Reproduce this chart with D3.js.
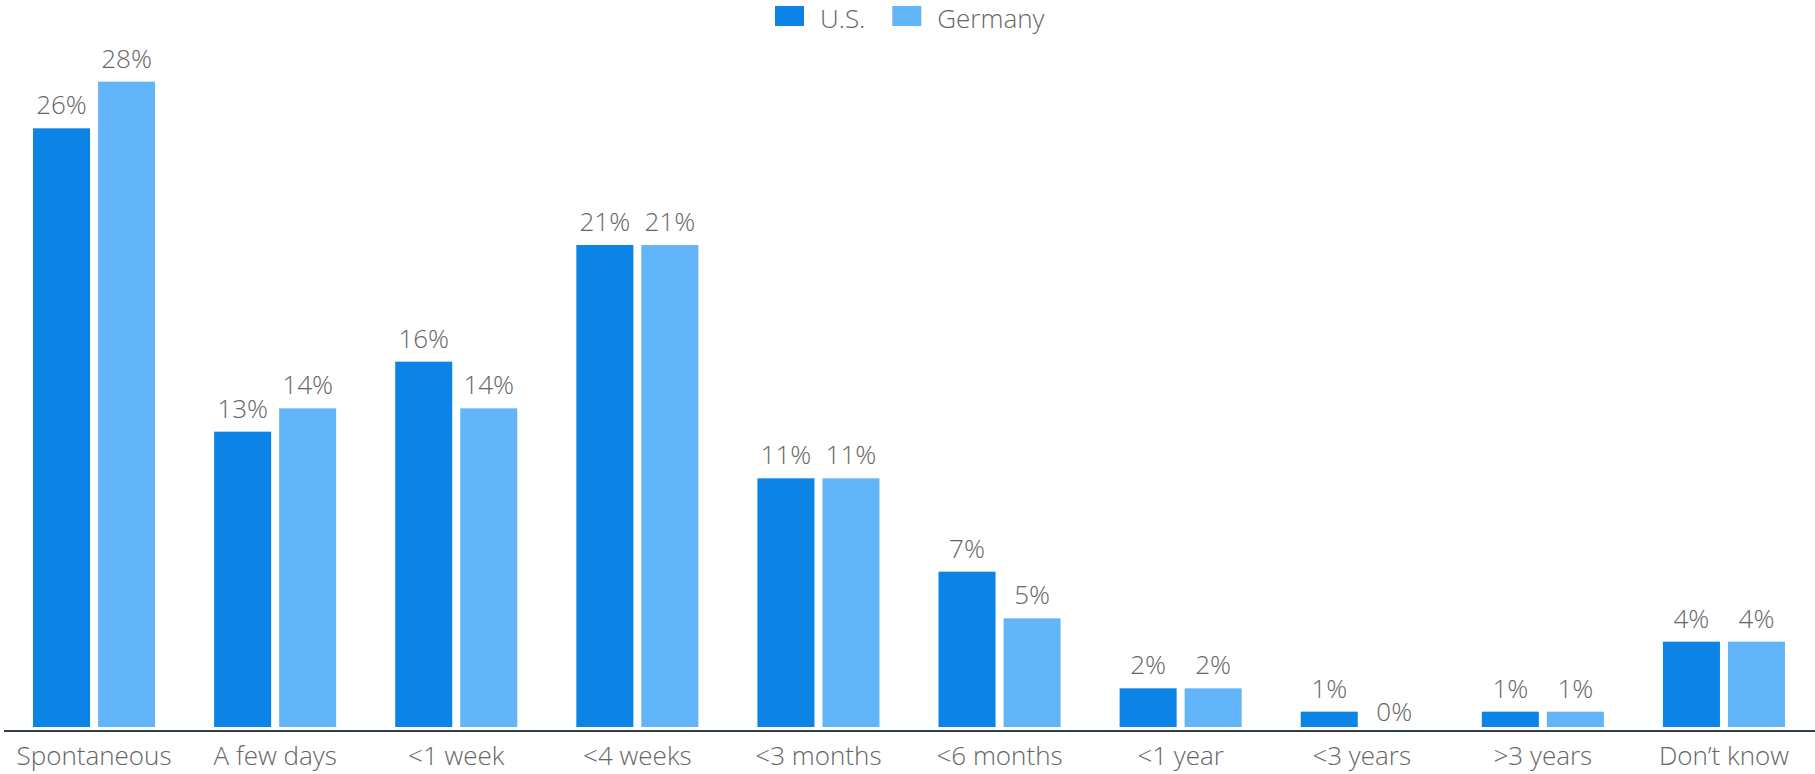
<!DOCTYPE html>
<html>
<head>
<meta charset="utf-8">
<script src="https://cdn.jsdelivr.net/npm/d3@7"></script>
<style>
  html, body { margin: 0; padding: 0; background: #fff; }
  svg { display: block; font-family: "Open Sans", sans-serif; font-weight: 300; }
</style>
</head>
<body>
<svg id="chart" width="1815" height="774"></svg>
<script>
// Time between deciding on a trip and booking it
const categories = ["Spontaneous", "A few days", "<1 week", "<4 weeks", "<3 months",
                    "<6 months", "<1 year", "<3 years", ">3 years", "Don\u2019t know"];
const seriesNames = ["U.S.", "Germany"];
const usValues      = [26, 13, 16, 21, 11, 7, 2, 1, 1, 4];
const germanyValues = [28, 14, 14, 21, 11, 5, 2, 0, 1, 4];
const colors = ["#0b84e5", "#63b5f9"];

const W = 1815, H = 774;
const svg = d3.select("#chart");

const plotBottom = 727;   // bars are cut off just above the axis rule
const axisY = 731;
const fontSize = 26;
const textColor = "#666";

const x0 = d3.scaleBand()
  .domain(categories)
  .range([3.5, 1814.5])
  .paddingInner(0.326)
  .paddingOuter(0.163);

const x1 = d3.scaleBand()
  .domain(seriesNames)
  .range([0, x0.bandwidth()])
  .paddingInner(0.123);

const y = d3.scaleLinear().domain([0, 30]).range([735, 35]);

const rows = categories.map((c, i) => ({
  category: c,
  values: [
    { series: seriesNames[0], value: usValues[i] },
    { series: seriesNames[1], value: germanyValues[i] }
  ]
}));

const color = d3.scaleOrdinal().domain(seriesNames).range(colors);

const groups = svg.append("g")
  .selectAll("g")
  .data(rows)
  .join("g")
  .attr("transform", d => `translate(${x0(d.category)},0)`);

groups.selectAll("rect")
  .data(d => d.values)
  .join("rect")
  .attr("x", d => x1(d.series))
  .attr("y", d => Math.min(y(d.value), plotBottom))
  .attr("width", x1.bandwidth())
  .attr("height", d => Math.max(0, plotBottom - y(d.value)))
  .attr("fill", d => color(d.series));

groups.selectAll("text")
  .data(d => d.values)
  .join("text")
  .attr("x", d => x1(d.series) + x1.bandwidth() / 2)
  .attr("y", d => y(d.value) - 14)
  .attr("text-anchor", "middle")
  .attr("font-size", fontSize)
  .attr("fill", textColor)
  .text(d => d3.format(".0f")(d.value) + "%");

// Category axis
const xAxis = svg.append("g")
  .attr("transform", `translate(0,${axisY})`)
  .call(d3.axisBottom(x0).tickSize(0).tickPadding(0));
xAxis.select(".domain").remove();
xAxis.append("line")
  .attr("x1", 4).attr("x2", W)
  .attr("stroke", "#2e3e4e")
  .attr("stroke-width", 2);
xAxis.selectAll(".tick text")
  .attr("y", 34)
  .attr("dy", 0)
  .attr("font-family", "Open Sans, sans-serif")
  .attr("font-weight", 300)
  .attr("font-size", fontSize)
  .attr("fill", textColor);

// Legend
const legend = svg.append("g");
const items = legend.selectAll("g")
  .data(seriesNames)
  .join("g");
items.append("rect")
  .attr("width", 29).attr("height", 20)
  .attr("y", 6)
  .attr("fill", d => color(d));
items.append("text")
  .attr("x", 45)
  .attr("y", 28)
  .attr("font-size", fontSize)
  .attr("fill", textColor)
  .text(d => d);
let lx = 775;
items.each(function () {
  const g = d3.select(this);
  g.attr("transform", `translate(${lx},0)`);
  lx += this.getBBox().width + 27;
});
</script>
</body>
</html>
